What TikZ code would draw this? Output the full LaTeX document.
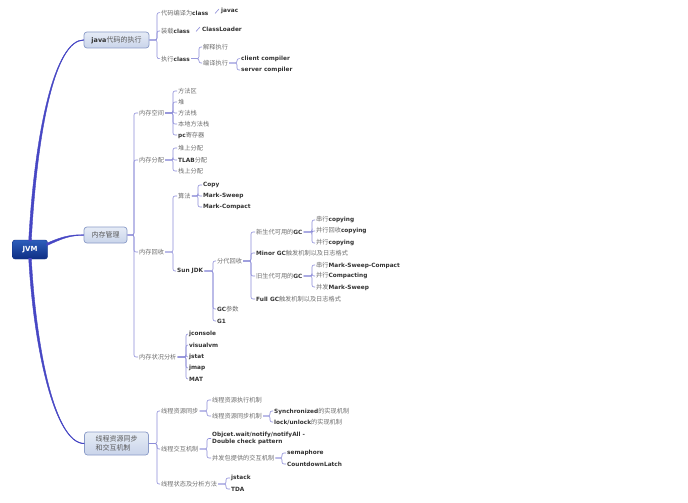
\documentclass[tikz,border=0pt]{standalone}
\usepackage{fontspec}
\setmainfont{Noto Sans CJK SC}
\newfontfamily\lat{DejaVu Sans}
\usetikzlibrary{calc}
\definecolor{cjk}{HTML}{6E6E6E}
\definecolor{ent}{HTML}{333333}
\definecolor{brc}{HTML}{8C8CD8}
\definecolor{mainc}{HTML}{4646C4}
\definecolor{topicb}{HTML}{8A9BC8}
\definecolor{topict}{HTML}{E6ECF6}
\definecolor{topicd}{HTML}{C9D4EA}
\definecolor{roott}{HTML}{2D5EBB}
\definecolor{rootd}{HTML}{0E2E84}
\newcommand\E[1]{{\lat\bfseries\fontsize{5.8}{7}\selectfont\color{ent}#1}}
\newcommand\Eb[1]{{\lat\bfseries\fontsize{6.4}{8}\selectfont\color{ent}#1}}
\newcommand\branch[3]{%
  \coordinate (sp) at (#2,0);
  \foreach \c in {#3}{\draw[br] (#1.east) -- (sp |- #1.east) |- (\c.west);}
}
\begin{document}
\begin{tikzpicture}[x=1pt,y=-1pt,
  leaf/.style={anchor=west,inner sep=1pt,text=cjk,font=\fontsize{6.2}{7.5}\selectfont},
  br/.style={draw=brc,line width=0.6pt,rounded corners=2pt},
  mainln/.style={fill=mainc,draw=mainc,line width=0.4pt},
  topic/.style={draw=topicb,rounded corners=3pt,top color=topict,bottom color=topicd,
    line width=0.7pt,inner sep=0pt,text=cjk!80!black,font=\fontsize{7}{9}\selectfont},
  root/.style={draw=rootd,rounded corners=2.5pt,top color=roott,bottom color=rootd,
    text=white,font=\lat\bfseries\fontsize{7}{8}\selectfont,
    minimum width=35pt,minimum height=19pt,inner sep=0pt}]
\fill[white] (0,0) rectangle (688,503);
\useasboundingbox (0,0) rectangle (688,503);

% root and topics
\node[root] (jvm) at (30,249.5) {JVM};
\node[topic,minimum width=65pt,minimum height=16pt] (java) at (116.5,40) {\Eb{java}代码的执行};
\node[topic,minimum width=43pt,minimum height=16pt] (mm) at (105.5,235) {内存管理};
\node[topic,minimum width=64pt,minimum height=23pt,align=left] (th) at (116.5,443.5) {线程资源同步\\和交互机制};

% tapered main connectors (thick at the root, thin at the topic)
\path[mainln] ($(jvm.north)+(-1.3,1)$) .. controls (34.7,130) and (55,39.6) .. ($(java.west)+(0,-0.3)$)
  -- ($(java.west)+(0,0.3)$) .. controls (55,40.4) and (37.3,130) .. ($(jvm.north)+(1.3,1)$) -- cycle;
\path[mainln] ($(jvm.east)+(-1,-6.2)$) .. controls (62,236.5) and (70,234.7) .. ($(mm.west)+(0,-0.3)$)
  -- ($(mm.west)+(0,0.3)$) .. controls (70,235.3) and (62,238.5) .. ($(jvm.east)+(-1,-3.8)$) -- cycle;
\path[mainln] ($(jvm.south)+(-1.3,-1)$) .. controls (33.7,350) and (55,443.9) .. ($(th.west)+(0,0.3)$)
  -- ($(th.west)+(0,-0.3)$) .. controls (55,443.1) and (36.3,350) .. ($(jvm.south)+(1.3,-1)$) -- cycle;

% java branch
\node[leaf] (a1) at (160,12.7) {代码编译为\E{class}};
\node[leaf] (a11) at (220,11) {\E{javac}};
\node[leaf] (a2) at (160,31) {装载\E{class}};
\node[leaf] (a21) at (201,29) {\E{ClassLoader}};
\node[leaf] (a3) at (160,58.7) {执行\E{class}};
\node[leaf] (a31) at (202,47) {解释执行};
\node[leaf] (a32) at (202,63) {编译执行};
\node[leaf] (a321) at (240,58.7) {\E{client compiler}};
\node[leaf] (a322) at (240,70) {\E{server compiler}};
\branch{java}{157}{a1,a2,a3}
\branch{a3}{199}{a31,a32}
\branch{a32}{237}{a321,a322}
\draw[br] ($(a11.west)+(-5,2.5)$) .. controls ($(a11.west)+(-3,0)$) .. ($(a11.west)+(-1,-2)$);
\draw[br] ($(a21.west)+(-5,2.5)$) .. controls ($(a21.west)+(-3,0)$) .. ($(a21.west)+(-1,-2)$);

% memory branch
\node[leaf] (b1) at (138,113) {内存空间};
\node[leaf] (b11) at (177,91) {方法区};
\node[leaf] (b12) at (177,102) {堆};
\node[leaf] (b13) at (177,113) {方法栈};
\node[leaf] (b14) at (177,124) {本地方法栈};
\node[leaf] (b15) at (177,135) {\E{pc}寄存器};
\node[leaf] (b2) at (138,160) {内存分配};
\node[leaf] (b21) at (177,148) {堆上分配};
\node[leaf] (b22) at (177,160) {\E{TLAB}分配};
\node[leaf] (b23) at (177,171) {栈上分配};
\node[leaf] (b3) at (138,252) {内存回收};
\node[leaf] (b31) at (177,196) {算法};
\node[leaf] (b311) at (202,185) {\E{Copy}};
\node[leaf] (b312) at (202,196) {\E{Mark-Sweep}};
\node[leaf] (b313) at (202,207) {\E{Mark-Compact}};
\node[leaf] (b32) at (176,271) {\E{Sun JDK}};
\node[leaf] (b321) at (216,261) {分代回收};
\node[leaf] (b3211) at (255,232) {新生代可用的\E{GC}};
\node[leaf] (b32111) at (315,220) {串行\E{copying}};
\node[leaf] (b32112) at (315,231) {并行回收\E{copying}};
\node[leaf] (b32113) at (315,243) {并行\E{copying}};
\node[leaf] (b3212) at (255,253) {\E{Minor GC}触发机制以及日志格式};
\node[leaf] (b3213) at (255,276) {旧生代可用的\E{GC}};
\node[leaf] (b32131) at (315,265) {串行\E{Mark-Sweep-Compact}};
\node[leaf] (b32132) at (315,276) {并行\E{Compacting}};
\node[leaf] (b32133) at (315,287) {并发\E{Mark-Sweep}};
\node[leaf] (b3214) at (255,299) {\E{Full GC}触发机制以及日志格式};
\node[leaf] (b322) at (216,309) {\E{GC}参数};
\node[leaf] (b323) at (216,321) {\E{G1}};
\node[leaf] (b4) at (138,357) {内存状况分析};
\node[leaf] (b41) at (188,334) {\E{jconsole}};
\node[leaf] (b42) at (188,345) {\E{visualvm}};
\node[leaf] (b43) at (188,357) {\E{jstat}};
\node[leaf] (b44) at (188,368) {\E{jmap}};
\node[leaf] (b45) at (188,379) {\E{MAT}};
\branch{mm}{134}{b1,b2,b3,b4}
\branch{b1}{173}{b11,b12,b13,b14,b15}
\branch{b2}{173}{b21,b22,b23}
\branch{b3}{173}{b31,b32}
\branch{b31}{198}{b311,b312,b313}
\branch{b32}{213}{b321,b322,b323}
\branch{b321}{251}{b3211,b3212,b3213,b3214}
\branch{b3211}{312}{b32111,b32112,b32113}
\branch{b3213}{312}{b32131,b32132,b32133}
\branch{b4}{186}{b41,b42,b43,b44,b45}

% thread branch
\node[leaf] (c1) at (160,411) {线程资源同步};
\node[leaf] (c11) at (211,400) {线程资源执行机制};
\node[leaf] (c12) at (211,416) {线程资源同步机制};
\node[leaf] (c121) at (273,411) {\E{Synchronized}的实现机制};
\node[leaf] (c122) at (273,422) {\E{lock/unlock}的实现机制};
\node[leaf] (c2) at (160,449) {线程交互机制};
\node[leaf,align=left,font=\lat\bfseries\fontsize{5.8}{7.5}\selectfont,text=ent] (c21) at (211,438.5) {Objcet.wait/notify/notifyAll -\\Double check pattern};
\node[leaf] (c22) at (211,458) {并发包提供的交互机制};
\node[leaf] (c221) at (286,453) {\E{semaphore}};
\node[leaf] (c222) at (286,464) {\E{CountdownLatch}};
\node[leaf] (c3) at (160,484) {线程状态及分析方法};
\node[leaf] (c31) at (230,478) {\E{jstack}};
\node[leaf] (c32) at (230,489) {\E{TDA}};
\branch{th}{157}{c1,c2,c3}
\branch{c1}{207}{c11,c12}
\branch{c12}{270}{c121,c122}
\branch{c2}{207}{c21,c22}
\branch{c22}{282}{c221,c222}
\branch{c3}{226}{c31,c32}
\end{tikzpicture}
\end{document}
